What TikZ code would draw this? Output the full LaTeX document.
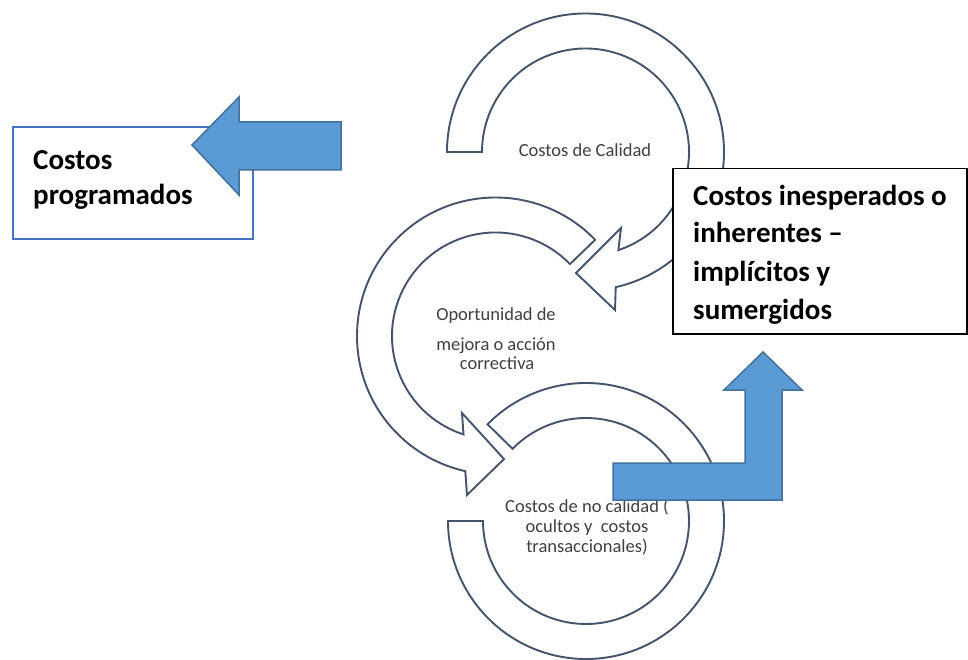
\documentclass[tikz,border=0pt]{standalone}
\usepackage{fontspec}
\setmainfont{Carlito}
\definecolor{ringc}{HTML}{44546A}
\definecolor{arrowfill}{HTML}{5B9BD5}
\definecolor{arrowedge}{HTML}{41719C}
\definecolor{boxblue}{HTML}{4472C4}
\definecolor{txtgray}{HTML}{404040}
\begin{document}
\begin{tikzpicture}[x=1pt,y=-1pt,
  ring/.style={draw=ringc, line width=1.9pt, fill=white, line join=miter},
  bluearrow/.style={draw=arrowedge, fill=arrowfill, line width=1.5pt, line join=miter},
  small/.style={font=\fontsize{18.5}{20}\selectfont, text=txtgray, inner sep=0pt, anchor=base},
  big/.style={font=\fontsize{29}{34}\selectfont\bfseries, text=black, inner sep=0pt, anchor=base west}]
\useasboundingbox (0,0) rectangle (968,660);
\fill[white] (0,0) rectangle (968,660);
\coordinate (T) at (585.5,152);
\coordinate (M) at (495.5,336);
\coordinate (B) at (586,521);
% top ring: Costos de Calidad
\draw[ring] ([shift={(180:138.5)}]T) arc[start angle=180, end angle=437.4, radius=138.5]
  -- (615,310) -- (576,273) -- (621,228) -- ([shift={(431.5:103.5)}]T)
  arc[start angle=431.5, end angle=180, radius=103.5] -- cycle;
% middle ring: Oportunidad
\draw[ring] ([shift={(316:138.5)}]M) arc[start angle=316, end angle=102.6, radius=138.5]
  -- (467,495) -- (504,459) -- (462,413) -- ([shift={(108:103.5)}]M)
  arc[start angle=108, end angle=316, radius=103.5] -- cycle;
% bottom ring: Costos de no calidad
\draw[ring] ([shift={(180:138)}]B) arc[start angle=180, end angle=-135.5, radius=138]
  -- ([shift={(-135.5:103)}]B) arc[start angle=-135.5, end angle=180, radius=103] -- cycle;
% ring texts
\node[small] (cal) at (585,157) {Costos de Calidad};
\node[small] (op1) at (496,320) {Oportunidad de};
\node[small] (op2) at (496,350) {mejora o acción};
\node[small] (op3) at (497,369) {correctiva};
\node[small] (nc1) at (587,512) {Costos de no calidad (};
\node[small] (nc2) at (587,532) {ocultos y~ costos};
\node[small] (nc3) at (587,552) {transaccionales)};
% left box
\node[draw=boxblue, line width=1.8pt, fill=white, anchor=north west, inner sep=0pt,
  minimum width=240pt, minimum height=112pt] (lbox) at (12,126) {};
\node[big] (lt1) at (33,170) {Costos};
\node[big] (lt2) at (33,205) {programados};
% left arrow
\draw[bluearrow] (192,145) -- (239,97) -- (239,122) -- (341,122) -- (341,170)
  -- (239,170) -- (239,195) -- cycle;
% right box
\node[draw=black, line width=1.5pt, fill=white, anchor=north west, inner sep=0pt,
  minimum width=294pt, minimum height=165pt] (rbox) at (672,168) {};
\node[big] (rt1) at (693,206) {Costos inesperados o};
\node[big] (rt2) at (693,243) {inherentes –};
\node[big] (rt3) at (693,281) {implícitos y};
\node[big] (rt4) at (693,319) {sumergidos};
% bent up arrow
\draw[bluearrow] (613,463) -- (745,463) -- (745,390) -- (724,390) -- (763,352)
  -- (802,390) -- (782,390) -- (782,500) -- (613,500) -- cycle;
\end{tikzpicture}
\end{document}
